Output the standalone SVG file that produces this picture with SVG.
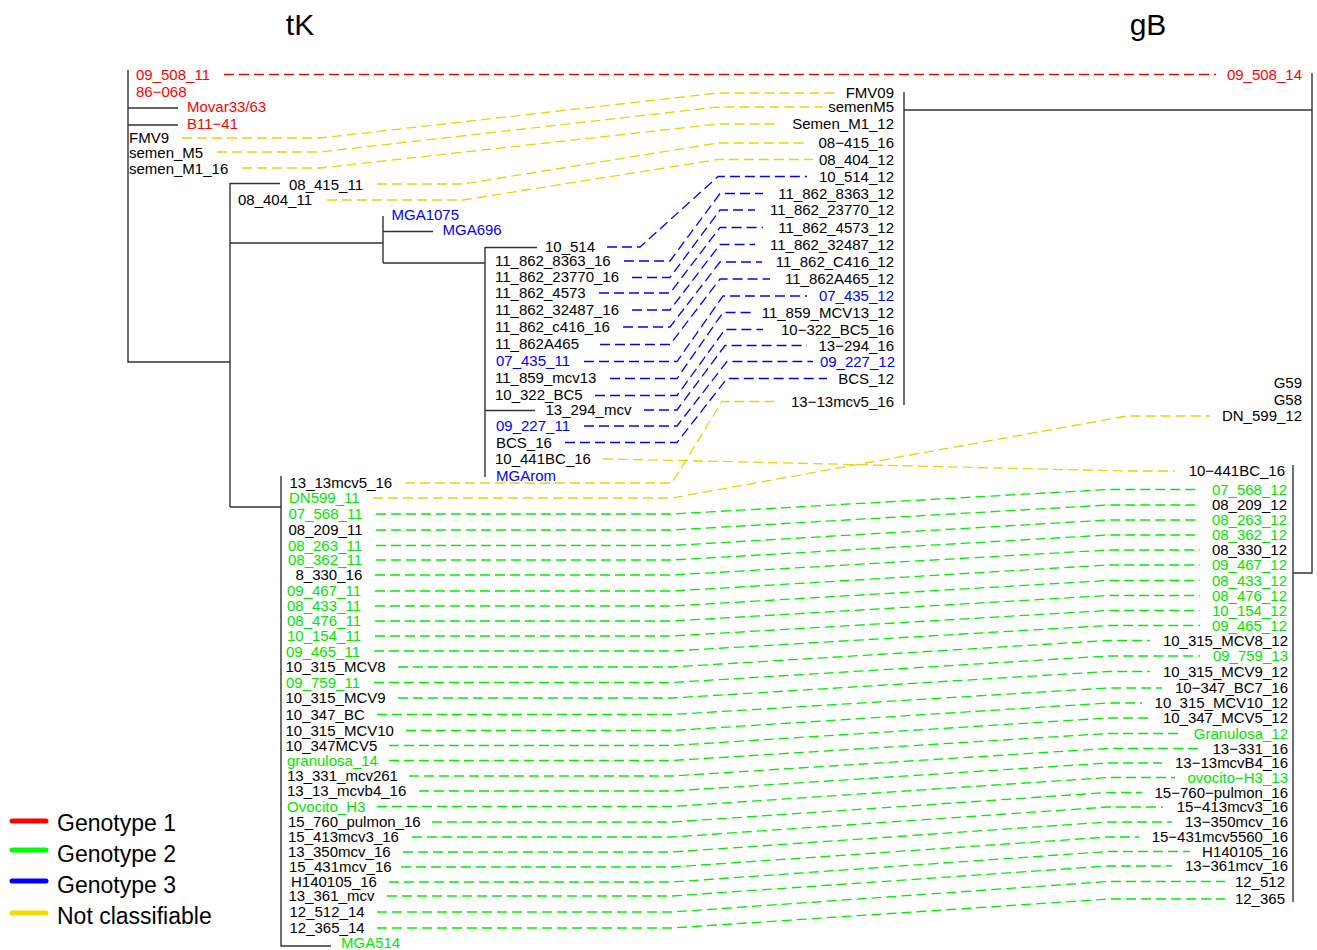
<svg xmlns="http://www.w3.org/2000/svg" width="1317" height="950" viewBox="0 0 1317 950">
<style>
text{font-family:"Liberation Sans",Arial,sans-serif;font-size:15px;fill:#000}
.r{fill:#ff0000}.g{fill:#00e600}.b{fill:#0000ff}.e{text-anchor:end}
.title{font-size:30px;text-anchor:middle}.leg{font-size:23px}
.tree path{stroke:#333;stroke-width:1.4;fill:none}
.c path{fill:none;stroke-width:1.3;stroke-dasharray:10 5}
.cr{stroke:#ff0000}.cg{stroke:#00ee00}.cb{stroke:#0000ff}.cy{stroke:#f2d000}
.lg{stroke-width:5;stroke-linecap:round;fill:none}
</style>
<rect width="1317" height="950" fill="#fff"/>
<g id="titles"><text class="title" x="300" y="35">tK</text><text class="title" x="1148" y="35">gB</text></g>
<g id="tree-left" class="tree">
<path d="M128,70V362H230M230,183V507M230,183.5H280M230,243H383M383,216V263M383,231.5H433M383,263H485M485,247V477M485,247.5H537M485,410.5H535M230,507H281M281,476V946H331M128,108H178M128,125H178"/>
</g>
<g id="tree-right" class="tree">
<path d="M904,92V405M904,110H1312M1312,73V573H1293M1293,465V902"/>
</g>
<g id="connectors" class="c">
<path class="cr" d="M224,74.5H1216"/>
<path class="cy" d="M182,138H320L718,93H838"/>
<path class="cy" d="M217,152H320L718,107H823"/>
<path class="cy" d="M242,168H320L718,124H780"/>
<path class="cy" d="M377,184H463L718,143H808"/>
<path class="cy" d="M327,200H463L718,159.5H813"/>
<path class="cb" d="M607,247H640L718,176.5H807"/>
<path class="cb" d="M624,261H670L720,193.5H763"/>
<path class="cb" d="M632,277.5H670L720,210H755"/>
<path class="cb" d="M599,293H670L720,227.5H763"/>
<path class="cb" d="M632,310H670L720,244.5H755"/>
<path class="cb" d="M623,327H670L720,262H762"/>
<path class="cb" d="M600,344.5H670L720,279H770"/>
<path class="cb" d="M584,361.5H677L723,296H807"/>
<path class="cb" d="M610,378.5H677L723,312.5H755"/>
<path class="cb" d="M595,395.5H677L725,329.5H763"/>
<path class="cb" d="M644,410H677L725,345.5H807"/>
<path class="cb" d="M584,426H677L727,361.5H813"/>
<path class="cb" d="M565,442.5H677L727,378.5H827"/>
<path class="cy" d="M603,459L682,460.5L1125,471H1175"/>
<path class="cy" d="M405,483H672L722,401.5H778"/>
<path class="cy" d="M373,498H672L1127,416H1210"/>
<path class="cg" d="M376,514H672L1108,489.5H1200"/>
<path class="cg" d="M376,530H672L1108,505H1200"/>
<path class="cg" d="M376,545.5H672L1108,520H1200"/>
<path class="cg" d="M376,560H672L1108,535H1200"/>
<path class="cg" d="M375,575H672L1108,550H1200"/>
<path class="cg" d="M375,591H672L1108,565H1200"/>
<path class="cg" d="M375,606H672L1108,580.5H1200"/>
<path class="cg" d="M375,621H672L1108,595.5H1200"/>
<path class="cg" d="M375,636H672L1108,610.5H1200"/>
<path class="cg" d="M374,651H672L1108,625.5H1200"/>
<path class="cg" d="M398,667H672L1108,640.5H1150"/>
<path class="cg" d="M374,682.5H672L1108,656H1200"/>
<path class="cg" d="M398,698H672L1108,671.5H1150"/>
<path class="cg" d="M377,714.5H672L1108,688H1162"/>
<path class="cg" d="M406,730.5H672L1108,703H1142"/>
<path class="cg" d="M389,745.5H672L1108,718H1150"/>
<path class="cg" d="M389,760.5H672L1108,733.5H1182"/>
<path class="cg" d="M409,776H672L1108,748.5H1200"/>
<path class="cg" d="M419,791H672L1108,763H1162"/>
<path class="cg" d="M377,806.5H672L1108,777.5H1175"/>
<path class="cg" d="M432,822H672L1108,792.5H1142"/>
<path class="cg" d="M412,837H672L1108,807H1163"/>
<path class="cg" d="M403,852H672L1108,822H1172"/>
<path class="cg" d="M401,867H672L1108,837H1139"/>
<path class="cg" d="M389,882H672L1108,851.5H1190"/>
<path class="cg" d="M387,896H672L1108,866H1172"/>
<path class="cg" d="M377,912H672L1108,881.5H1225"/>
<path class="cg" d="M377,928H672L1108,899H1225"/>
</g>
<g id="left-labels">
<g id="l-09_508_11"><text class="r" x="136" y="79.5">09_508_11</text></g>
<g id="l-86-068"><text class="r" x="136" y="96.5">86−068</text></g>
<g id="l-Movar"><text class="r" x="187" y="112">Movar33/63</text></g>
<g id="l-B11-41"><text class="r" x="187" y="129">B11−41</text></g>
<g id="l-FMV9"><text x="129" y="143">FMV9</text></g>
<g id="l-semen_M5"><text x="129" y="157.5">semen_M5</text></g>
<g id="l-semen_M1_16"><text x="129" y="173.5">semen_M1_16</text></g>
<g id="l-08_415_11"><text x="289" y="189.5">08_415_11</text></g>
<g id="l-08_404_11"><text x="238" y="204.5">08_404_11</text></g>
<g id="l-MGA1075"><text class="b" x="391.5" y="219.5">MGA1075</text></g>
<g id="l-MGA696"><text class="b" x="442.5" y="235">MGA696</text></g>
<g id="l-10_514"><text x="545" y="252">10_514</text></g>
<g id="l-8363"><text x="495" y="266">11_862_8363_16</text></g>
<g id="l-23770"><text x="495" y="282">11_862_23770_16</text></g>
<g id="l-4573"><text x="495" y="297.5">11_862_4573</text></g>
<g id="l-32487"><text x="495" y="315">11_862_32487_16</text></g>
<g id="l-c416"><text x="495" y="332">11_862_c416_16</text></g>
<g id="l-A465"><text x="495" y="349">11_862A465</text></g>
<g id="l-07_435_11"><text class="b" x="496" y="366">07_435_11</text></g>
<g id="l-11_859"><text x="495" y="383">11_859_mcv13</text></g>
<g id="l-10_322"><text x="495" y="400">10_322_BC5</text></g>
<g id="l-13_294"><text x="545.5" y="415">13_294_mcv</text></g>
<g id="l-09_227_11"><text class="b" x="496" y="431">09_227_11</text></g>
<g id="l-BCS_16"><text x="496" y="447.5">BCS_16</text></g>
<g id="l-10_441BC"><text x="495" y="463.5">10_441BC_16</text></g>
<g id="l-MGArom"><text class="b" x="496" y="481">MGArom</text></g>
<g id="l-13_13mcv5"><text x="289.5" y="487.5">13_13mcv5_16</text></g>
<g id="l-DN599"><text class="g" x="289" y="503">DN599_11</text></g>
<g id="l-07_568"><text class="g" x="288.5" y="519">07_568_11</text></g>
<g id="l-08_209"><text x="288.5" y="535">08_209_11</text></g>
<g id="l-08_263"><text class="g" x="288" y="550.5">08_263_11</text></g>
<g id="l-08_362"><text class="g" x="288" y="565">08_362_11</text></g>
<g id="l-8_330"><text x="295.5" y="580">8_330_16</text></g>
<g id="l-09_467"><text class="g" x="287" y="596">09_467_11</text></g>
<g id="l-08_433"><text class="g" x="287" y="611">08_433_11</text></g>
<g id="l-08_476"><text class="g" x="287" y="626">08_476_11</text></g>
<g id="l-10_154"><text class="g" x="287" y="641">10_154_11</text></g>
<g id="l-09_465"><text class="g" x="286" y="656.5">09_465_11</text></g>
<g id="l-MCV8"><text x="285.5" y="672">10_315_MCV8</text></g>
<g id="l-09_759"><text class="g" x="286" y="687.5">09_759_11</text></g>
<g id="l-MCV9"><text x="285.5" y="703">10_315_MCV9</text></g>
<g id="l-10_347_BC"><text x="285.5" y="719.5">10_347_BC</text></g>
<g id="l-MCV10"><text x="285.5" y="735.5">10_315_MCV10</text></g>
<g id="l-347MCV5"><text x="285.5" y="750.5">10_347MCV5</text></g>
<g id="l-granulosa"><text class="g" x="287" y="765.5">granulosa_14</text></g>
<g id="l-13_331"><text x="287" y="781">13_331_mcv261</text></g>
<g id="l-13_13_mcvb4"><text x="287" y="796">13_13_mcvb4_16</text></g>
<g id="l-Ovocito"><text class="g" x="287" y="811.5">Ovocito_H3</text></g>
<g id="l-15_760"><text x="288" y="827">15_760_pulmon_16</text></g>
<g id="l-15_413"><text x="288" y="842">15_413mcv3_16</text></g>
<g id="l-13_350"><text x="288" y="857">13_350mcv_16</text></g>
<g id="l-15_431"><text x="289" y="872">15_431mcv_16</text></g>
<g id="l-H140105"><text x="291" y="887">H140105_16</text></g>
<g id="l-13_361"><text x="288.5" y="901">13_361_mcv</text></g>
<g id="l-12_512"><text x="289.5" y="917">12_512_14</text></g>
<g id="l-12_365"><text x="289.5" y="933">12_365_14</text></g>
<g id="l-MGA514"><text class="g" x="341" y="948">MGA514</text></g>
</g>
<g id="right-labels">
<g id="r-09_508_14"><text class="r e" x="1302" y="79.5">09_508_14</text></g>
<g id="r-FMV09"><text class="e" x="894" y="98">FMV09</text></g>
<g id="r-semenM5"><text class="e" x="894" y="112">semenM5</text></g>
<g id="r-Semen_M1_12"><text class="e" x="894" y="129">Semen_M1_12</text></g>
<g id="r-08-415_16"><text class="e" x="894" y="148">08−415_16</text></g>
<g id="r-08_404_12"><text class="e" x="894" y="164.5">08_404_12</text></g>
<g id="r-10_514_12"><text class="e" x="894" y="181.5">10_514_12</text></g>
<g id="r-8363"><text class="e" x="894" y="198.5">11_862_8363_12</text></g>
<g id="r-23770"><text class="e" x="894" y="215">11_862_23770_12</text></g>
<g id="r-4573"><text class="e" x="894" y="232.5">11_862_4573_12</text></g>
<g id="r-32487"><text class="e" x="894" y="249.5">11_862_32487_12</text></g>
<g id="r-C416"><text class="e" x="894" y="267">11_862_C416_12</text></g>
<g id="r-A465"><text class="e" x="894" y="284">11_862A465_12</text></g>
<g id="r-07_435_12"><text class="b e" x="894" y="301">07_435_12</text></g>
<g id="r-MCV13"><text class="e" x="894" y="317.5">11_859_MCV13_12</text></g>
<g id="r-10-322"><text class="e" x="894" y="334.5">10−322_BC5_16</text></g>
<g id="r-13-294"><text class="e" x="894" y="350.5">13−294_16</text></g>
<g id="r-09_227_12"><text class="b e" x="895" y="366.5">09_227_12</text></g>
<g id="r-BCS_12"><text class="e" x="894" y="383.5">BCS_12</text></g>
<g id="r-13-13mcv5_16"><text class="e" x="894" y="406.5">13−13mcv5_16</text></g>
<g id="r-G59"><text class="e" x="1302" y="387.5">G59</text></g>
<g id="r-G58"><text class="e" x="1302" y="404.5">G58</text></g>
<g id="r-DN_599_12"><text class="e" x="1302" y="420.5">DN_599_12</text></g>
<g id="r-10-441BC_16"><text class="e" x="1285" y="476">10−441BC_16</text></g>
<g id="r-07_568_12"><text class="g e" x="1287" y="494.5">07_568_12</text></g>
<g id="r-08_209_12"><text class="e" x="1287" y="510">08_209_12</text></g>
<g id="r-08_263_12"><text class="g e" x="1287" y="525">08_263_12</text></g>
<g id="r-08_362_12"><text class="g e" x="1287" y="540">08_362_12</text></g>
<g id="r-08_330_12"><text class="e" x="1287" y="555">08_330_12</text></g>
<g id="r-09_467_12"><text class="g e" x="1287" y="570">09_467_12</text></g>
<g id="r-08_433_12"><text class="g e" x="1287" y="585.5">08_433_12</text></g>
<g id="r-08_476_12"><text class="g e" x="1287" y="600.5">08_476_12</text></g>
<g id="r-10_154_12"><text class="g e" x="1287" y="615.5">10_154_12</text></g>
<g id="r-09_465_12"><text class="g e" x="1287" y="630.5">09_465_12</text></g>
<g id="r-MCV8_12"><text class="e" x="1288" y="645.5">10_315_MCV8_12</text></g>
<g id="r-09_759_13"><text class="g e" x="1288" y="661">09_759_13</text></g>
<g id="r-MCV9_12"><text class="e" x="1288" y="676.5">10_315_MCV9_12</text></g>
<g id="r-BC7_16"><text class="e" x="1288" y="693">10−347_BC7_16</text></g>
<g id="r-MCV10_12"><text class="e" x="1288" y="708">10_315_MCV10_12</text></g>
<g id="r-MCV5_12"><text class="e" x="1288" y="723">10_347_MCV5_12</text></g>
<g id="r-Granulosa_12"><text class="g e" x="1288" y="738.5">Granulosa_12</text></g>
<g id="r-13-331_16"><text class="e" x="1288" y="753.5">13−331_16</text></g>
<g id="r-13-13mcvB4_16"><text class="e" x="1288" y="768">13−13mcvB4_16</text></g>
<g id="r-ovocito"><text class="g e" x="1288" y="782.5">ovocito−H3_13</text></g>
<g id="r-15-760"><text class="e" x="1288" y="797.5">15−760−pulmon_16</text></g>
<g id="r-15-413"><text class="e" x="1288" y="812">15−413mcv3_16</text></g>
<g id="r-13-350"><text class="e" x="1288" y="827">13−350mcv_16</text></g>
<g id="r-15-431"><text class="e" x="1288" y="842">15−431mcv5560_16</text></g>
<g id="r-H140105_16"><text class="e" x="1288" y="856.5">H140105_16</text></g>
<g id="r-13-361"><text class="e" x="1288" y="871">13−361mcv_16</text></g>
<g id="r-12_512"><text class="e" x="1285" y="886.5">12_512</text></g>
<g id="r-12_365"><text class="e" x="1285" y="904">12_365</text></g>
</g>
<g id="legend">
<path class="lg" d="M12,821H46" stroke="#ff0000"/>
<path class="lg" d="M12,850H46" stroke="#00ff00"/>
<path class="lg" d="M12,881H46" stroke="#0000ff"/>
<path class="lg" d="M12,913H46" stroke="#eedd00"/>
<text class="leg" x="57" y="831">Genotype 1</text>
<text class="leg" x="57" y="862">Genotype 2</text>
<text class="leg" x="57" y="893">Genotype 3</text>
<text class="leg" x="57" y="924">Not classifiable</text>
</g>
</svg>
